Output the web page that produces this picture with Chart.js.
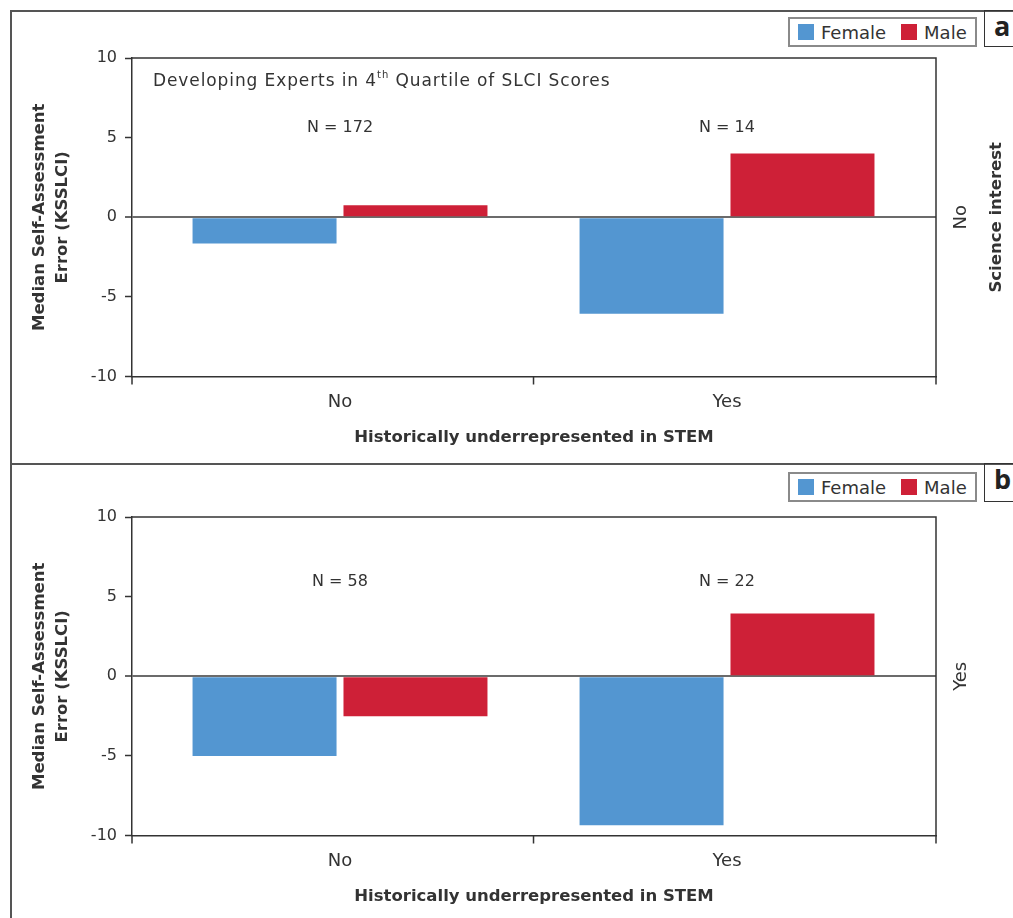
<!DOCTYPE html>
<html>
<head>
<meta charset="utf-8">
<script src="https://cdn.jsdelivr.net/npm/chart.js@4.4.1/dist/chart.umd.min.js"></script>
<style>
  html, body { margin: 0; padding: 0; background: #fff; }
  body { width: 1013px; height: 918px; position: relative; overflow: hidden; font-family: "DejaVu Sans", sans-serif; color: #333; }
  .rule { position: absolute; background: #555; }
  .legend { position: absolute; left: 788px; width: 189px; height: 30px; box-sizing: border-box; border: 2px solid #8a8a8a;
            display: flex; align-items: center; padding-left: 8px; font-size: 18px; color: #333; white-space: nowrap; }
  .legend span.sw { display: inline-block; width: 16px; height: 16px; margin-right: 7px; flex: none; }
  .legend span.lb { margin-right: 15px; }
  .tag { position: absolute; left: 984px; width: 40px; box-sizing: border-box; border: 1.5px solid #333;
         font-family: "Open Sans", sans-serif; font-weight: bold; font-size: 27px; line-height: 30px; padding-left: 9px; color: #222; }
  canvas { position: absolute; left: 10px; }
</style>
</head>
<body>
<div class="rule" style="left:10px;top:10px;width:1003px;height:1.5px"></div>
<div class="rule" style="left:10px;top:10px;width:1.5px;height:908px"></div>
<div class="rule" style="left:10px;top:463px;width:1003px;height:1.5px"></div>

<div class="legend" id="legA" style="top:17px"></div>
<div class="tag" style="top:10px;height:37px">a</div>
<div class="legend" id="legB" style="top:472px"></div>
<div class="tag" style="top:463px;height:39px">b</div>

<canvas id="chartA" width="1003" height="453" style="top:10px"></canvas>
<canvas id="chartB" width="1003" height="449" style="top:469px"></canvas>

<script>
// data
const categories = ['No', 'Yes'];
const seriesNames = ['Female', 'Male'];
const seriesColors = ['#5396d1', '#ce2037'];
const femaleA = [-1.65, -6.05];
const maleA = [0.75, 4.0];
const femaleB = [-5.0, -9.35];
const maleB = [-2.5, 3.95];
const nLabelsA = ['N = 172', 'N = 14'];
const nLabelsB = ['N = 58', 'N = 22'];
const interestLevels = ['No', 'Yes'];
const yMin = -10, yMax = 10, yStep = 5;

const FONT = '"DejaVu Sans", sans-serif';
Chart.defaults.font.family = FONT;
Chart.defaults.color = '#333';

// legends
['legA', 'legB'].forEach(id => {
    document.getElementById(id).innerHTML = seriesNames.map((n, i) =>
        `<span class="sw" style="background:${seriesColors[i]}"></span><span class="lb">${n}</span>`).join('');
});

const frame = {
    id: 'frame',
    afterDraw: (chart) => {
        const {ctx, chartArea: a, scales: {x, y}} = chart;
        const o = chart.options.plugins.frame;
        ctx.save();
        // top and right side of plot box
        ctx.strokeStyle = '#333';
        ctx.lineWidth = 1.5;
        ctx.beginPath();
        ctx.moveTo(a.left, a.top); ctx.lineTo(a.right, a.top); ctx.lineTo(a.right, a.bottom);
        // x tick marks at edges and between groups
        [a.left, x.getPixelForValue(0.5), a.right].forEach(px => {
            ctx.moveTo(px, a.bottom); ctx.lineTo(px, a.bottom + 8);
        });
        ctx.stroke();

        ctx.fillStyle = '#333';
        ctx.textBaseline = 'middle';
        // N labels
        ctx.font = '16px ' + FONT;
        ctx.textAlign = 'center';
        o.nLabels.forEach((t, i) => ctx.fillText(t, x.getPixelForValue(i), y.getPixelForValue(o.nY)));

        // note with superscript
        if (o.note) {
            let px = a.left + 21;
            const py = y.getPixelForValue(8.5);
            ctx.textAlign = 'left';
            ctx.letterSpacing = '0.9px';
            const parts = ['Developing Experts in 4', 'th', ' Quartile of SLCI Scores'];
            parts.forEach((p, i) => {
                ctx.font = (i === 1 ? '10px ' : '17px ') + FONT;
                ctx.fillText(p, px, i === 1 ? py - 6 : py);
                px += ctx.measureText(p).width;
            });
            ctx.letterSpacing = '0px';
        }

        // right-hand rotated labels
        const mid = (a.top + a.bottom) / 2;
        ctx.textAlign = 'center';
        ctx.save();
        ctx.translate(951, mid);
        ctx.rotate(-Math.PI / 2);
        ctx.font = '18px ' + FONT;
        ctx.fillText(o.level, 0, 0);
        ctx.restore();
        if (o.side) {
            ctx.save();
            ctx.translate(987, mid);
            ctx.rotate(-Math.PI / 2);
            ctx.font = 'bold 16.5px ' + FONT;
            ctx.fillText(o.side, 0, 0);
            ctx.restore();
        }
        ctx.restore();
    }
};

function makePanel(id, female, male, opts) {
    const toPts = (arr) => arr.map((v, i) => ({x: i, y: v}));
    return new Chart(document.getElementById(id), {
        type: 'bar',
        data: {
            datasets: [
                {label: seriesNames[0], data: toPts(female), backgroundColor: seriesColors[0]},
                {label: seriesNames[1], data: toPts(male), backgroundColor: seriesColors[1]}
            ]
        },
        options: {
            responsive: false,
            animation: false,
            categoryPercentage: 0.78,
            barPercentage: 0.954,
            layout: {padding: {left: 0, right: 77, top: 48, bottom: opts.padBottom}},
            plugins: {
                legend: {display: false},
                tooltip: {enabled: false},
                frame: opts
            },
            scales: {
                x: {
                    type: 'linear',
                    offset: false,
                    min: -0.5375,
                    max: 1.54,
                    afterBuildTicks: (s) => { s.ticks = categories.map((c, i) => ({value: i})); },
                    ticks: {
                        font: {size: 18},
                        padding: 7,
                        callback: (v) => categories[v]
                    },
                    grid: {display: true, drawOnChartArea: false, tickLength: 8, color: 'rgba(0,0,0,0)'},
                    border: {display: true, color: '#333', width: 1.5},
                    title: {
                        display: true,
                        text: 'Historically underrepresented in STEM',
                        font: {size: 16.5, weight: 'bold'},
                        padding: {top: 8, bottom: 0}
                    }
                },
                y: {
                    min: yMin,
                    max: yMax,
                    afterFit: (s) => { s.width = 122; },
                    ticks: {stepSize: yStep, font: {size: 16}, padding: 8},
                    grid: {
                        drawOnChartArea: true,
                        tickLength: 7,
                        tickColor: '#333',
                        tickWidth: 1.5,
                        color: (c) => c.tick && c.tick.value === 0 ? '#6b6b6b' : 'rgba(0,0,0,0)',
                        lineWidth: (c) => c.tick && c.tick.value === 0 ? 2 : 1
                    },
                    border: {display: true, color: '#333', width: 1.5},
                    title: {
                        display: true,
                        text: ['Median Self-Assessment', 'Error (KSSLCI)'],
                        font: {size: 16.5, weight: 'bold', lineHeight: 1.35},
                        padding: {top: 19, bottom: 0}
                    }
                }
            }
        },
        plugins: [frame]
    });
}

makePanel('chartA', femaleA, maleA, {nLabels: nLabelsA, nY: 5.6, note: true, level: interestLevels[0], side: 'Science interest', padBottom: 15});
makePanel('chartB', femaleB, maleB, {nLabels: nLabelsB, nY: 5.9, note: false, level: interestLevels[1], side: '', padBottom: 11});
</script>
</body>
</html>
